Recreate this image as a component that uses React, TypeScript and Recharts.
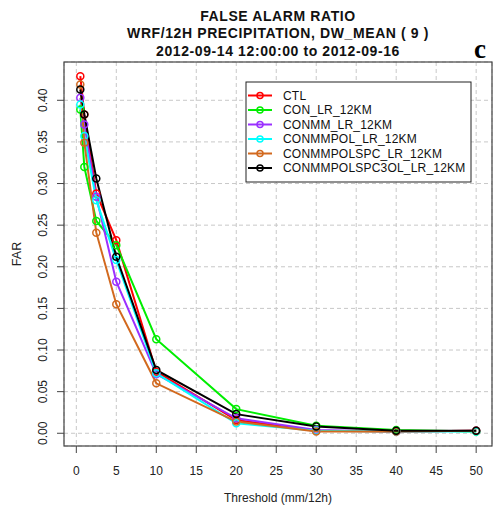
import React from 'react';
import { LineChart, Line, XAxis, YAxis, CartesianGrid, Customized } from 'recharts';

const thresholds = [0.5, 1, 2.5, 5, 10, 20, 30, 40, 50];
const seriesNames = ['CTL', 'CON_LR_12KM', 'CONMM_LR_12KM', 'CONMMPOL_LR_12KM', 'CONMMPOLSPC_LR_12KM', 'CONMMPOLSPC3OL_LR_12KM'];
const seriesColors = ['#ff0000', '#00ee00', '#9b30ff', '#00ffff', '#d2691e', '#000000'];
const ctl = [0.429, 0.383, 0.288, 0.232, 0.074, 0.016, 0.003, 0.002, 0.003];
const conLr = [0.389, 0.320, 0.255, 0.226, 0.113, 0.029, 0.009, 0.004, 0.002];
const conmmLr = [0.403, 0.371, 0.284, 0.182, 0.071, 0.018, 0.004, 0.002, 0.003];
const conmmpolLr = [0.395, 0.357, 0.280, 0.208, 0.072, 0.012, 0.003, 0.002, 0.002];
const conmmpolspcLr = [0.419, 0.349, 0.241, 0.155, 0.060, 0.014, 0.002, 0.002, 0.003];
const conmmpolspc3olLr = [0.413, 0.383, 0.306, 0.212, 0.076, 0.023, 0.008, 0.003, 0.003];
const xTicks = [0, 5, 10, 15, 20, 25, 30, 35, 40, 45, 50];
const yTicks = [0, 0.05, 0.1, 0.15, 0.2, 0.25, 0.3, 0.35, 0.4];
const titleLines = ['FALSE ALARM RATIO', 'WRF/12H PRECIPITATION, DW_MEAN ( 9 )', '2012-09-14 12:00:00 to 2012-09-16'];

const seriesValues = [ctl, conLr, conmmLr, conmmpolLr, conmmpolspcLr, conmmpolspc3olLr];
const keys = ['s0', 's1', 's2', 's3', 's4', 's5'];
const data = thresholds.map((t, i) => {
  const row: any = { t };
  seriesValues.forEach((vals, k) => { row[keys[k]] = vals[i]; });
  return row;
});

const FONT = '"Liberation Sans", Arial, Helvetica, sans-serif';

const YTick = (props: any) => {
  const { x, y, payload } = props;
  const bx = x - 2;
  return (
    <text x={bx} y={y} transform={`rotate(-90 ${bx} ${y})`} textAnchor="middle" fontSize={12} fill="#222" fontFamily={FONT}>
      {Number(payload.value).toFixed(2)}
    </text>
  );
};

const Decor = () => (
  <g fontFamily={FONT}>
    <rect x={64} y={62} width={428} height={384} fill="none" stroke="#444" strokeWidth={1.2} />
    {titleLines.map((s, i) => (
      <text key={i} x={278} y={20.5 + i * 17.5} textAnchor="middle" fontSize={14} letterSpacing={0.6} fontWeight="bold" fill="#111">{s}</text>
    ))}
    <text x={474} y={58} fontSize={27} fontWeight="bold" fontFamily='"Liberation Serif", "DejaVu Serif", serif' fill="#000">c</text>
    <text x={278} y={502} textAnchor="middle" fontSize={12} fill="#222">Threshold (mm/12h)</text>
    <text x={21} y={254} transform="rotate(-90 21 254)" textAnchor="middle" fontSize={12.5} fill="#222">FAR</text>
    <rect x={246} y={82} width={225} height={100} fill="#fff" stroke="#222" strokeWidth={1} />
    {seriesNames.map((n, i) => {
      const yy = 95.5 + i * 14.5;
      return (
        <g key={n}>
          <line x1={248} x2={272} y1={yy} y2={yy} stroke={seriesColors[i]} strokeWidth={2} />
          <circle cx={260} cy={yy} r={3} fill="none" stroke={seriesColors[i]} strokeWidth={1.5} />
          <text x={283} y={yy + 4.3} fontSize={12} letterSpacing={0.2} fill="#111">{n}</text>
        </g>
      );
    })}
  </g>
);

export default function App() {
  return (
    <div style={{ position: 'absolute', left: 0, top: 0, width: 494, height: 509, background: '#fff' }}>
      <LineChart width={494} height={509} data={data} margin={{ top: 62, right: 2, left: 24, bottom: 23 }}>
        <CartesianGrid stroke="#c8c8c8" strokeDasharray="4 3" />
        <XAxis
          dataKey="t"
          type="number"
          domain={[-1.54, 51.98]}
          allowDataOverflow
          ticks={xTicks}
          axisLine={false}
          tickLine={{ stroke: '#444' }}
          tickSize={7}
          tickMargin={13}
          height={40}
          tick={{ fontSize: 12, fill: '#222', fontFamily: FONT }}
        />
        <YAxis
          type="number"
          domain={[-0.0153, 0.446]}
          allowDataOverflow
          ticks={yTicks}
          axisLine={false}
          tickLine={{ stroke: '#444' }}
          tickSize={7}
          tickMargin={8}
          width={40}
          tick={<YTick />}
        />
        {keys.map((k, i) => (
          <Line
            key={k}
            dataKey={k}
            type="linear"
            stroke={seriesColors[i]}
            strokeWidth={2}
            dot={{ r: 3.5, stroke: seriesColors[i], strokeWidth: 1.5, fill: 'none' }}
            isAnimationActive={false}
          />
        ))}
        <Customized component={Decor} />
      </LineChart>
    </div>
  );
}
